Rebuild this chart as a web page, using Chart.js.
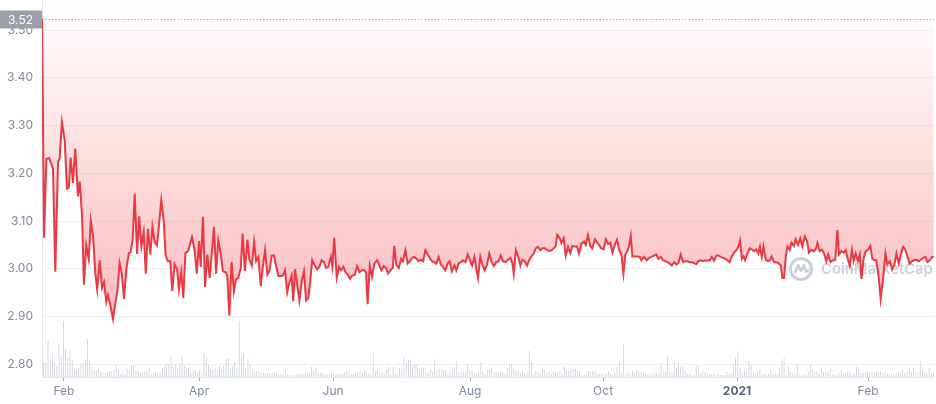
<!DOCTYPE html>
<html>
<head>
<meta charset="utf-8">
<script src="https://cdn.jsdelivr.net/npm/chart.js@4.4.1/dist/chart.umd.min.js"></script>
<style>
  html, body { margin: 0; padding: 0; background: #fff; }
  #wrap { position: relative; width: 936px; height: 404px; }
</style>
</head>
<body>
<div id="wrap"><canvas id="priceChart"></canvas></div>
<script>
// Reference price shown in the grey tag on the left
const refPrice = 3.524;

// Price series: day index (from first point) and price in USD
const priceDays = [
  0, 0.9, 1.9, 3.1, 4.8, 5.8, 7.0, 7.7, 8.7, 9.9, 10.9, 11.7, 12.5, 13.5, 14.5, 15.7, 16.5, 17.5, 18.3, 19.3,
  20.4, 21.3, 22.3, 23.3, 24.1, 25.2, 26.2, 27.1, 28.1, 28.8, 29.8, 31.0, 32.2, 32.9, 33.9, 34.9, 35.8, 36.8, 37.9, 38.7,
  39.6, 40.5, 41.5, 42.4, 43.4, 44.4, 45.3, 46.3, 47.3, 48.2, 49.2, 50.2, 51.1, 52.1, 53.1, 54.0, 55.0, 56.0, 56.9, 57.9,
  59.0, 59.8, 60.8, 61.7, 62.6, 63.8, 65.5, 66.7, 67.6, 68.6, 69.3, 70.3, 71.2, 72.2, 73.2, 74.1, 75.1, 76.0, 77.0, 78.0,
  79.0, 80.2, 80.9, 81.8, 82.8, 83.8, 84.7, 85.7, 86.8, 87.6, 88.6, 89.7, 90.5, 91.6, 92.6, 93.5, 94.5, 95.5, 96.4, 97.4,
  98.4, 99.3, 100.3, 101.3, 102.2, 103.2, 104.4, 105.2, 106.1, 107.1, 108.0, 109.0, 109.7, 110.5, 111.5, 112.4, 113.4, 114.4, 115.3, 116.3,
  117.2, 118.0, 118.9, 120.2, 121.1, 122.1, 123.1, 124.0, 125.0, 126.1, 126.8, 127.6, 128.7, 129.7, 130.6, 131.6, 132.6, 133.5, 134.5, 135.5,
  136.6, 137.6, 138.6, 139.7, 140.9, 141.5, 142.2, 143.1, 144.1, 145.1, 146.3, 147.3, 148.2, 149.2, 150.2, 151.1, 152.1, 153.2, 153.8, 154.7,
  155.8, 156.8, 157.6, 158.7, 159.7, 160.6, 161.6, 162.6, 163.5, 164.5, 165.5, 166.4, 167.4, 168.4, 169.3, 170.3, 171.3, 172.2, 173.2, 174.2,
  175.1, 176.1, 177.2, 178.0, 179.0, 180.1, 180.9, 182.0, 183.0, 183.8, 184.9, 185.9, 186.8, 187.8, 188.8, 189.7, 190.4, 191.4, 192.5, 193.3,
  194.3, 195.3, 196.2, 197.3, 198.3, 199.4, 200.3, 201.3, 202.3, 203.5, 204.5, 205.4, 206.0, 206.9, 207.9, 208.9, 209.7, 210.8, 211.8, 212.7,
  213.7, 214.7, 215.6, 216.6, 217.6, 218.5, 219.5, 220.5, 221.4, 222.4, 223.5, 224.3, 225.0, 226.1, 226.8, 227.8, 228.7, 229.7, 230.7, 231.6,
  232.6, 233.6, 234.5, 235.5, 236.6, 237.4, 238.4, 239.4, 240.3, 241.4, 242.4, 243.2, 244.2, 245.3, 246.2, 247.2, 248.2, 249.1, 250.1, 251.1,
  252.0, 253.0, 253.9, 254.7, 255.6, 256.3, 257.1, 257.8, 258.8, 260.0, 261.0, 261.7, 262.8, 264.1, 265.1, 266.1, 267.3, 268.3, 269.1, 270.2,
  271.2, 272.1, 273.1, 274.1, 275.0, 276.0, 277.0, 277.9, 278.9, 279.9, 280.8, 281.8, 282.9, 283.7, 284.7, 285.7, 286.6, 287.7, 288.7, 289.5,
  290.5, 291.6, 292.5, 293.5, 294.5, 295.3, 296.4, 297.4, 298.3, 299.3, 300.3, 301.2, 302.2, 303.2, 304.1, 304.8, 305.6, 306.3, 307.0, 308.0,
  309.0, 309.9, 310.9, 311.9, 312.8, 313.5, 314.3, 315.0, 316.0, 317.0, 317.9, 318.6, 319.7, 320.7, 321.5, 322.6, 323.3, 324.0, 324.8, 325.5,
  326.5, 327.2, 328.3, 329.1, 330.1, 331.1, 332.0, 333.1, 334.1, 334.9, 335.9, 337.0, 337.9, 338.6, 339.6, 340.6, 341.5, 342.5, 343.3, 344.3,
  345.4, 346.4, 347.3, 348.0, 349.1, 350.1, 351.0, 351.7, 352.7, 353.7, 354.4, 355.3, 356.3, 357.1, 357.8, 358.8, 359.7, 360.7, 361.7, 362.6,
  363.6, 364.3, 365.4, 366.2, 367.3, 368.3, 369.1, 370.2, 371.2, 372.1, 373.1, 374.1, 375.0, 376.0, 377.0, 377.9, 378.9, 379.9, 380.8, 381.8,
  382.8, 383.7, 384.7, 385.8, 386.6, 387.6, 388.7, 389.4
];
const prices = [
  3.524, 3.065, 3.230, 3.232, 3.210, 2.994, 3.225, 3.230, 3.307, 3.270, 3.168, 3.170, 3.233, 3.180, 3.252, 3.152, 3.183, 3.110, 2.967, 3.050,
  3.020, 3.100, 3.068, 2.990, 2.957, 3.018, 2.960, 2.972, 2.931, 2.945, 2.925, 2.895, 2.934, 2.953, 3.012, 2.988, 2.937, 2.998, 3.032, 3.035,
  3.061, 3.157, 3.031, 3.110, 3.047, 3.077, 2.990, 3.084, 3.030, 3.088, 3.056, 3.049, 3.093, 3.144, 3.103, 3.028, 3.016, 3.016, 2.953, 3.010,
  2.999, 2.957, 2.993, 2.939, 3.033, 3.037, 3.067, 3.037, 2.990, 3.058, 3.004, 3.109, 2.962, 3.030, 2.981, 3.030, 3.088, 2.990, 3.059, 3.032,
  2.995, 2.993, 2.985, 2.902, 3.014, 2.953, 2.978, 2.981, 3.002, 3.074, 2.995, 3.061, 3.020, 3.007, 3.056, 3.016, 3.025, 2.964, 3.004, 3.039,
  2.988, 2.995, 3.028, 3.028, 3.007, 2.985, 2.985, 2.986, 2.997, 2.951, 2.971, 2.986, 2.932, 2.999, 2.965, 2.934, 2.974, 2.995, 2.934, 2.939,
  2.978, 3.018, 3.009, 2.999, 3.004, 3.018, 3.014, 3.002, 3.004, 3.025, 3.004, 3.065, 2.981, 3.004, 2.997, 3.004, 2.992, 2.988, 2.979, 2.986,
  2.988, 3.006, 2.993, 2.997, 2.997, 2.992, 2.926, 3.006, 2.983, 3.011, 3.018, 3.008, 2.997, 3.006, 3.002, 2.990, 2.997, 3.002, 3.048, 3.009,
  3.002, 3.021, 3.016, 3.039, 3.011, 3.016, 3.023, 3.025, 3.021, 3.016, 3.019, 3.016, 3.039, 3.030, 3.023, 3.016, 3.014, 3.011, 3.025, 3.009,
  3.004, 2.997, 3.012, 3.016, 2.995, 3.007, 2.997, 3.012, 3.014, 3.018, 3.014, 3.030, 3.019, 3.007, 3.025, 2.999, 2.981, 3.025, 3.006, 2.997,
  3.009, 3.032, 3.016, 3.006, 3.014, 3.016, 3.028, 3.016, 3.014, 3.019, 3.023, 3.012, 2.990, 3.039, 3.026, 3.007, 3.019, 3.016, 3.007, 3.018,
  3.026, 3.032, 3.043, 3.046, 3.039, 3.043, 3.043, 3.040, 3.037, 3.039, 3.043, 3.047, 3.071, 3.064, 3.054, 3.064, 3.028, 3.046, 3.033, 3.048,
  3.047, 3.047, 3.032, 3.052, 3.057, 3.050, 3.071, 3.048, 3.043, 3.062, 3.055, 3.050, 3.043, 3.041, 3.062, 3.052, 3.055, 3.034, 3.050, 3.061,
  3.040, 3.030, 2.990, 3.030, 3.037, 3.047, 3.069, 3.026, 3.026, 3.026, 3.025, 3.018, 3.025, 3.018, 3.023, 3.025, 3.028, 3.030, 3.021, 3.025,
  3.018, 3.016, 3.014, 3.011, 3.007, 3.014, 3.009, 3.012, 3.030, 3.014, 3.016, 3.016, 3.014, 3.014, 3.012, 3.010, 3.016, 3.018, 3.016, 3.018,
  3.017, 3.018, 3.025, 3.017, 3.028, 3.028, 3.025, 3.023, 3.021, 3.018, 3.014, 3.026, 3.034, 3.039, 3.047, 3.059, 3.021, 3.026, 3.018, 3.032,
  3.043, 3.041, 3.037, 3.041, 3.032, 3.046, 3.025, 3.047, 3.019, 3.016, 3.018, 3.026, 3.014, 3.014, 3.012, 3.007, 2.981, 2.981, 3.026, 3.047,
  3.040, 3.055, 3.048, 3.062, 3.050, 3.064, 3.047, 3.068, 3.057, 3.034, 3.040, 3.037, 3.041, 3.054, 3.037, 3.040, 3.032, 3.016, 3.030, 3.014,
  3.018, 3.019, 3.081, 3.030, 3.037, 3.034, 3.039, 3.023, 3.006, 3.039, 3.016, 3.032, 3.016, 3.030, 2.979, 3.023, 3.037, 3.040, 3.048, 3.021,
  3.018, 3.018, 2.981, 2.937, 2.981, 3.032, 3.009, 3.016, 2.999, 3.006, 3.032, 3.011, 3.030, 3.046, 3.040, 3.026, 3.011, 3.016, 3.018, 3.019,
  3.016, 3.019, 3.023, 3.025, 3.014, 3.018, 3.025, 3.025
];

// Daily trading volume bars (relative units, same scale)
const volumes = [
  14, 15, 37, 18, 22, 15, 11, 33, 21, 56, 28, 19, 26, 17, 9, 7, 9, 13, 14, 18,
  38, 17, 10, 7, 7, 8, 6, 4, 4, 4, 6, 6, 7, 12, 7, 3, 4, 3, 8, 6,
  12, 12, 7, 6, 4, 5, 6, 6, 9, 3, 4, 5, 4, 5, 9, 11, 13, 12, 20, 10,
  13, 9, 14, 21, 11, 8, 9, 4, 7, 7, 5, 7, 4, 24, 20, 12, 8, 7, 9, 7,
  11, 8, 11, 18, 19, 9, 11, 15, 10, 56, 21, 24, 9, 18, 12, 8, 5, 6, 6, 4,
  4, 4, 4, 3, 4, 4, 3, 3, 3, 3, 7, 3, 2, 2, 2, 2, 3, 2, 3, 3,
  3, 4, 10, 7, 9, 4,
  4, 4, 2, 3, 3, 4, 3, 3, 3, 3, 3, 5, 6, 6, 3, 3, 4, 5, 6, 4,
  8, 5, 4, 3, 25, 6, 6, 4, 5, 4, 8, 10, 3, 10, 4, 4, 9, 8, 20, 14,
  17, 17, 12, 13, 13, 8, 10, 9, 5, 4, 7, 6, 18, 7, 8, 7, 7, 7, 5, 8,
  9, 10, 16, 5, 4, 5, 5, 13, 7, 6, 4, 3, 5, 15, 5, 3, 7, 7, 9, 5,
  5, 4, 5, 5, 3, 9, 13, 13, 8, 6, 6, 4, 6, 3, 4, 26, 15, 3, 6, 5,
  3, 8, 7, 4, 5, 3, 6, 5, 4, 6, 3, 11, 7, 6, 8, 8, 8, 6, 6, 3,
  2, 2, 6, 5, 6, 6, 3, 3, 3, 3, 4, 6, 3, 2, 4, 10,
  14, 4, 33, 3, 5, 2, 6, 4, 7, 5, 5, 4, 3, 3, 3, 3, 4, 4, 3, 15,
  6, 5, 21, 5, 4, 15, 10, 14, 11, 11, 6, 3, 4, 2, 2, 12, 12, 4, 6, 5,
  4, 3, 3, 3, 2, 3, 2, 2, 2, 5, 3, 4, 13, 20, 26, 9, 4, 6, 5, 16,
  12, 5, 2, 6, 8, 3, 3, 2, 3, 7, 3, 4, 3, 9, 16, 19, 2, 11, 5, 4,
  3, 13, 2, 2, 3, 3, 6, 12, 8, 5, 6, 3, 8, 5, 5, 5, 8, 2, 3, 2,
  4, 7, 3, 3, 5, 6, 3, 4, 10, 8, 4, 4, 5, 6, 5, 5, 4, 5, 5, 5,
  4, 5, 3, 3, 3, 4, 4, 5, 4, 7, 4, 5, 7, 5, 9, 4, 5, 16, 8, 5,
  4, 9, 3, 5
];

// X axis ticks (day index) and their labels
const tickDays = [9.6, 68.6, 127.1, 186.9, 245.0, 303.5, 360.7];
const tickLabels = ['Feb', 'Apr', 'Jun', 'Aug', 'Oct', '2021', 'Feb'];

// Axis ranges
const priceMin = 2.7735;
const priceMax = 3.563;
const dayMax = 389.5;
const volumeMax = 377;

const RED = '#ea3943';
const FONT = 'Inter, "Noto Sans", sans-serif';
const MARK = 'rgba(196, 203, 215, 0.9)';

// Grey dotted price line + tag, and CoinMarketCap watermark
const overlayPlugin = {
    id: 'overlay',
    beforeDatasetsDraw(chart) {
        // runs after the filler (drawTime beforeDatasetsDraw), so it sits above the fill, under the line
        const { ctx, chartArea } = chart;
        const cx = chartArea.right - 133;
        const cy = 269;
        ctx.save();
        ctx.strokeStyle = MARK;
        ctx.lineWidth = 3;
        ctx.beginPath();
        ctx.arc(cx, cy, 10.5, 0, Math.PI * 2);
        ctx.stroke();
        ctx.lineWidth = 2.5;
        ctx.lineJoin = 'round';
        ctx.beginPath();
        ctx.moveTo(cx - 6, cy + 4);
        ctx.lineTo(cx - 3, cy - 4);
        ctx.lineTo(cx, cy + 2);
        ctx.lineTo(cx + 3, cy - 4);
        ctx.lineTo(cx + 5, cy + 3);
        ctx.lineTo(cx + 8, cy + 1);
        ctx.stroke();
        ctx.fillStyle = MARK;
        let size = 17;
        ctx.font = '600 ' + size + 'px ' + FONT;
        const w = ctx.measureText('CoinMarketCap').width;
        size = size * 112 / w;
        ctx.font = '600 ' + size.toFixed(1) + 'px ' + FONT;
        ctx.textBaseline = 'middle';
        ctx.textAlign = 'left';
        ctx.fillText('CoinMarketCap', cx + 20, cy + 1);
        ctx.restore();
    },
    afterDraw(chart) {
        const { ctx, chartArea } = chart;
        const y = Math.round(chart.scales.y.getPixelForValue(refPrice)) + 0.5;
        ctx.save();
        ctx.strokeStyle = '#9aa0ab';
        ctx.lineWidth = 1;
        ctx.setLineDash([1.2, 2.1]);
        ctx.beginPath();
        ctx.moveTo(chartArea.left, y);
        ctx.lineTo(chart.width, y);
        ctx.stroke();
        ctx.setLineDash([]);
        ctx.fillStyle = '#9aa0ab';
        ctx.fillRect(0, y - 9, chartArea.left, 18);
        ctx.fillStyle = '#ffffff';
        ctx.font = '12px ' + FONT;
        ctx.textAlign = 'right';
        ctx.textBaseline = 'middle';
        ctx.fillText(refPrice.toFixed(2), chartArea.left - 9, y + 0.5);
        ctx.restore();
    }
};

const ctx = document.getElementById('priceChart').getContext('2d');

const priceChart = new Chart(ctx, {
    data: {
        datasets: [
            {
                type: 'line',
                label: 'Price',
                data: priceDays.map((d, i) => ({ x: d, y: prices[i] })),
                xAxisID: 'x',
                yAxisID: 'y',
                borderColor: RED,
                borderWidth: 2,
                pointRadius: 0,
                tension: 0,
                fill: 'end',
                order: 0,
                backgroundColor(context) {
                    const { ctx, chartArea } = context.chart;
                    if (!chartArea) return 'rgba(234, 57, 67, 0.15)';
                    const g = ctx.createLinearGradient(0, chartArea.top, 0, chartArea.bottom);
                    g.addColorStop(0, 'rgba(234, 57, 67, 0.0)');
                    g.addColorStop(1, 'rgba(234, 57, 67, 0.4)');
                    return g;
                }
            },
            {
                type: 'bar',
                label: 'Volume',
                data: volumes,
                xAxisID: 'xv',
                yAxisID: 'yv',
                backgroundColor: '#c0c7d4',
                barPercentage: 0.6,
                categoryPercentage: 1,
                order: 1
            }
        ]
    },
    options: {
        responsive: true,
        maintainAspectRatio: false,
        animation: false,
        layout: { padding: { top: 0, right: 2, bottom: 0, left: 0 } },
        plugins: {
            legend: { display: false },
            tooltip: { enabled: false },
            filler: { drawTime: 'beforeDatasetsDraw' }
        },
        scales: {
            x: {
                type: 'linear',
                min: 0,
                max: dayMax,
                afterBuildTicks(scale) {
                    scale.ticks = tickDays.map(v => ({ value: v }));
                },
                afterFit(scale) {
                    scale.height = 27;
                    scale.paddingLeft = 0;
                    scale.paddingRight = 0;
                },
                grid: {
                    drawOnChartArea: false,
                    drawTicks: true,
                    tickLength: 4,
                    color: '#a3aab7'
                },
                border: { display: true, color: '#e3e6ec' },
                ticks: {
                    autoSkip: false,
                    maxRotation: 0,
                    padding: 3,
                    callback: (value, index) => tickLabels[index],
                    color: (c) => tickLabels[c.index] === '2021' ? '#58667e' : '#808a9d',
                    font: (c) => ({
                        family: FONT,
                        size: 12,
                        weight: tickLabels[c.index] === '2021' ? '700' : '400'
                    })
                }
            },
            xv: {
                type: 'category',
                labels: volumes.map((_, i) => String(i)),
                offset: true,
                display: false
            },
            y: {
                type: 'linear',
                position: 'left',
                min: priceMin,
                max: priceMax,
                afterFit(scale) {
                    scale.width = 42;
                    scale.paddingTop = 0;
                    scale.paddingBottom = 0;
                },
                grid: {
                    color: '#eff1f5',
                    drawTicks: false
                },
                border: { display: true, color: '#e3e6ec' },
                ticks: {
                    stepSize: 0.1,
                    includeBounds: false,
                    padding: 9,
                    color: '#808a9d',
                    font: { family: FONT, size: 12 },
                    callback: (v) => Number(v).toFixed(2)
                }
            },
            yv: {
                type: 'linear',
                min: 0,
                max: volumeMax,
                display: false
            }
        }
    },
    plugins: [overlayPlugin]
});
</script>
</body>
</html>
